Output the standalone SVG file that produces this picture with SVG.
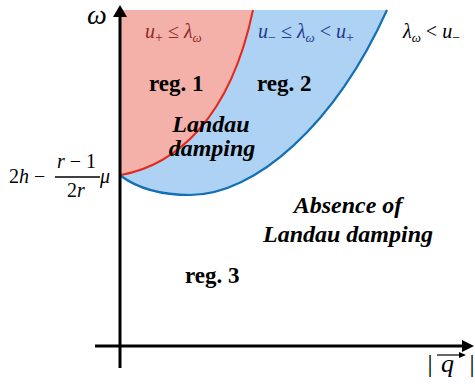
<svg xmlns="http://www.w3.org/2000/svg" width="475" height="386" viewBox="0 0 475 386">
<defs>
<style>
.m{font-family:"Liberation Serif","DejaVu Serif","Times New Roman",serif;font-style:italic}
.r{font-family:"Liberation Serif","DejaVu Serif","Times New Roman",serif;font-style:normal}
.b{font-family:"Liberation Serif","DejaVu Serif","Times New Roman",serif;font-weight:bold;font-size:23px}
.bi{font-family:"Liberation Serif","DejaVu Serif","Times New Roman",serif;font-weight:bold;font-style:italic;font-size:24px}
.ax{stroke:#000;stroke-width:3;fill:none}
</style>
</defs>
<rect width="475" height="386" fill="#fff"/>
<g id="regions">
<path id="reg1-fill" d="M121,175 C175,165 230,120 253,10 L120,10 L120,175 Z" fill="#f4b1aa"/>
<path id="reg2-fill" d="M121,175 C175,165 230,120 253,10 L387,10 C335,125 255,195 190,195 C165,195 140,190 121,176 Z" fill="#aed2f3"/>
</g>
<g id="connectors">
<path d="M121,175 C175,165 230,120 253,10" fill="none" stroke="#e8261a" stroke-width="2"/>
<path d="M121,176 C140,190 165,195 190,195 C255,195 335,125 387,10" fill="none" stroke="#1470b5" stroke-width="2.2"/>
<line class="ax" x1="120" y1="15" x2="120" y2="368"/>
<polygon points="120,5 113,17 127,17" fill="#000"/>
<line class="ax" x1="95" y1="346" x2="464" y2="346"/>
<polygon points="474,346 462,340 462,352" fill="#000"/>
</g>
<g id="axis-labels">
<text class="m" x="87" y="24" font-size="28">ω</text>
<text class="m" x="426" y="372" font-size="26">|</text>
<text class="m" x="441" y="372" font-size="26">q</text>
<text class="m" x="468" y="372" font-size="26">|</text>
<line x1="437" y1="355" x2="462" y2="355" stroke="#000" stroke-width="1.2"/>
<polygon points="466,355 459,352 459,358" fill="#000"/>
</g>
<g id="intercept">
<text class="r" x="9" y="183" font-size="20">2<tspan class="m">h</tspan> −</text>
<text class="m" x="57" y="168" font-size="20">r <tspan class="r">− 1</tspan></text>
<line x1="55" y1="177" x2="100" y2="177" stroke="#000" stroke-width="1.4"/>
<text class="r" x="67" y="197" font-size="20">2<tspan class="m">r</tspan></text>
<text class="m" x="100" y="183" font-size="20">μ</text>
</g>
<g id="reg1">
<text class="m" x="145" y="38" font-size="20" fill="#8e2b1f">u<tspan font-size="14" dy="4" class="r">+</tspan><tspan dy="-4" class="r"> ≤ </tspan>λ<tspan font-size="13" dy="4">ω</tspan></text>
<text class="b" x="149" y="91">reg. 1</text>
</g>
<g id="reg2">
<text class="m" x="258" y="38" font-size="20" fill="#1f3a8f">u<tspan font-size="14" dy="4" class="r">−</tspan><tspan dy="-4" class="r"> ≤ </tspan>λ<tspan font-size="13" dy="4">ω</tspan><tspan dy="-4" class="r"> &lt; </tspan>u<tspan font-size="14" dy="4" class="r">+</tspan></text>
<text class="b" x="257" y="91">reg. 2</text>
</g>
<g id="landau">
<text class="bi" x="211" y="132" text-anchor="middle">Landau</text>
<text class="bi" x="212" y="156" text-anchor="middle">damping</text>
</g>
<g id="reg3">
<text class="m" x="403" y="38" font-size="20" fill="#000">λ<tspan font-size="13" dy="4">ω</tspan><tspan dy="-4" class="r"> &lt; </tspan>u<tspan font-size="14" dy="4" class="r">−</tspan></text>
<text class="bi" x="348" y="213" text-anchor="middle">Absence of</text>
<text class="bi" x="348" y="242" text-anchor="middle">Landau damping</text>
<text class="b" x="185" y="283">reg. 3</text>
</g>
</svg>
